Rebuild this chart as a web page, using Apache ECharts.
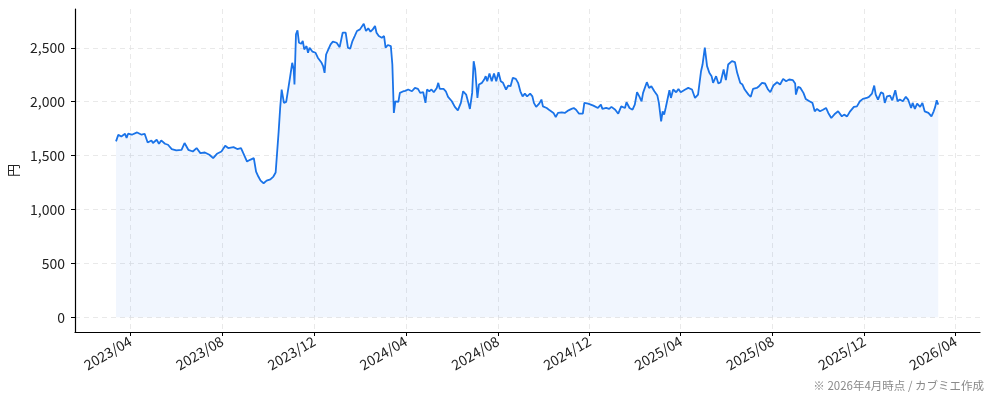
<!DOCTYPE html>
<html>
<head>
<meta charset="utf-8">
<script src="https://cdn.jsdelivr.net/npm/echarts@6/dist/echarts.min.js"></script>
<style>
  html, body { margin: 0; padding: 0; background: #fff; }
  #main { width: 994px; height: 400px; }
</style>
</head>
<body>
<div id="main"></div>
<script>
// 株価（円）
var dates = [
  '2023-03-13','2023-03-16','2023-03-20','2023-03-25','2023-03-27','2023-03-29','2023-04-03','2023-04-10','2023-04-12','2023-04-16',
  '2023-04-20','2023-04-24','2023-04-29','2023-05-01','2023-05-06','2023-05-09','2023-05-12','2023-05-17','2023-05-21','2023-05-26',
  '2023-06-01','2023-06-08','2023-06-12','2023-06-17','2023-06-23','2023-06-28','2023-07-03','2023-07-09','2023-07-15','2023-07-20',
  '2023-07-25','2023-07-31','2023-08-05','2023-08-09','2023-08-16','2023-08-21','2023-08-26','2023-08-29','2023-09-03','2023-09-07',
  '2023-09-12','2023-09-15','2023-09-18','2023-09-21','2023-09-25','2023-09-29','2023-10-04','2023-10-08','2023-10-11','2023-10-13',
  '2023-10-15','2023-10-17','2023-10-19','2023-10-22','2023-10-25','2023-10-27','2023-10-30','2023-11-02','2023-11-04','2023-11-05',
  '2023-11-07','2023-11-09','2023-11-11','2023-11-14','2023-11-16','2023-11-18','2023-11-21','2023-11-23','2023-11-25','2023-11-29',
  '2023-12-03','2023-12-06','2023-12-11','2023-12-13','2023-12-15','2023-12-17','2023-12-20','2023-12-23','2023-12-26','2023-12-31',
  '2024-01-04','2024-01-08','2024-01-12','2024-01-15','2024-01-18','2024-01-21','2024-01-24','2024-01-27','2024-01-31','2024-02-02',
  '2024-02-05','2024-02-08','2024-02-11','2024-02-14','2024-02-17','2024-02-20','2024-02-22','2024-02-25','2024-02-29','2024-03-03',
  '2024-03-05','2024-03-08','2024-03-12','2024-03-14','2024-03-16','2024-03-18','2024-03-22','2024-03-24','2024-03-28','2024-03-31',
  '2024-04-04','2024-04-09','2024-04-13','2024-04-17','2024-04-20','2024-04-24','2024-04-27','2024-04-29','2024-05-02','2024-05-05',
  '2024-05-08','2024-05-12','2024-05-14','2024-05-16','2024-05-21','2024-05-24','2024-05-27','2024-06-01','2024-06-05','2024-06-09',
  '2024-06-13','2024-06-16','2024-06-20','2024-06-23','2024-06-25','2024-06-28','2024-06-30','2024-07-02','2024-07-05','2024-07-07',
  '2024-07-11','2024-07-14','2024-07-16','2024-07-18','2024-07-21','2024-07-24','2024-07-27','2024-07-30','2024-08-02','2024-08-05',
  '2024-08-08','2024-08-12','2024-08-15','2024-08-18','2024-08-21','2024-08-25','2024-08-28','2024-08-31','2024-09-03','2024-09-06',
  '2024-09-09','2024-09-13','2024-09-16','2024-09-18','2024-09-21','2024-09-25','2024-09-28','2024-09-30','2024-10-05','2024-10-09',
  '2024-10-14','2024-10-17','2024-10-20','2024-10-25','2024-10-29','2024-11-03','2024-11-07','2024-11-10','2024-11-13','2024-11-17',
  '2024-11-22','2024-11-24','2024-11-29','2024-12-06','2024-12-12','2024-12-16','2024-12-18','2024-12-23','2024-12-27','2024-12-30',
  '2025-01-04','2025-01-08','2025-01-12','2025-01-17','2025-01-19','2025-01-23','2025-01-27','2025-01-30','2025-02-02','2025-02-05',
  '2025-02-08','2025-02-10','2025-02-15','2025-02-18','2025-02-21','2025-02-25','2025-03-01','2025-03-03','2025-03-06','2025-03-08',
  '2025-03-10','2025-03-12','2025-03-14','2025-03-17','2025-03-19','2025-03-22','2025-03-26','2025-03-29','2025-04-01','2025-04-07',
  '2025-04-11','2025-04-16','2025-04-20','2025-04-24','2025-04-28','2025-04-30','2025-05-03','2025-05-06','2025-05-09','2025-05-12',
  '2025-05-14','2025-05-18','2025-05-21','2025-05-24','2025-05-28','2025-05-31','2025-06-03','2025-06-08','2025-06-12','2025-06-15',
  '2025-06-19','2025-06-22','2025-06-25','2025-06-30','2025-07-03','2025-07-06','2025-07-11','2025-07-14','2025-07-18','2025-07-22',
  '2025-07-26','2025-07-29','2025-08-02','2025-08-07','2025-08-11','2025-08-15','2025-08-19','2025-08-23','2025-08-28','2025-08-31',
  '2025-09-01','2025-09-04','2025-09-07','2025-09-11','2025-09-14','2025-09-19','2025-09-23','2025-09-26','2025-09-29','2025-10-03',
  '2025-10-07','2025-10-11','2025-10-14','2025-10-18','2025-10-23','2025-10-27','2025-11-01','2025-11-04','2025-11-08','2025-11-12',
  '2025-11-14','2025-11-17','2025-11-21','2025-11-25','2025-11-29','2025-12-04','2025-12-07','2025-12-11','2025-12-14','2025-12-16',
  '2025-12-19','2025-12-23','2025-12-26','2025-12-28','2025-12-31','2026-01-04','2026-01-07','2026-01-11','2026-01-14','2026-01-17',
  '2026-01-21','2026-01-25','2026-01-28','2026-02-01','2026-02-03','2026-02-06','2026-02-09','2026-02-13','2026-02-16','2026-02-19',
  '2026-02-24','2026-02-28','2026-03-03','2026-03-05','2026-03-07','2026-03-09'
];
var prices = [
  1632,1694,1678,1703,1663,1703,1694,1715,1725,1694,
  1703,1622,1641,1617,1647,1610,1641,1610,1601,1561,
  1548,1554,1617,1554,1538,1570,1523,1529,1508,1477,
  1517,1538,1591,1570,1579,1561,1570,1523,1445,1461,
  1477,1352,1306,1268,1244,1268,1280,1306,1343,1330,
  1725,1942,2113,1989,1998,1989,2222,2361,2299,2159,
  2625,2662,2547,2538,2563,2485,2516,2454,2501,2464,
  2454,2408,2361,2330,2268,2438,2485,2532,2557,2547,
  2506,2640,2640,2501,2492,2563,2609,2656,2671,2665,
  2724,2656,2681,2650,2671,2702,2640,2609,2594,2609,
  2501,2526,2516,2345,1896,2004,1998,2082,2095,2100,
  2113,2097,2128,2119,2082,2088,1989,2113,2097,2113,
  2088,2128,2175,2119,2119,2097,2045,2004,1952,1920,
  1989,2097,2066,1989,1933,2082,2376,2299,2035,2159,
  2175,2206,2237,2190,2262,2190,2262,2190,2274,2190,
  2175,2113,2150,2144,2222,2212,2175,2097,2050,2075,
  2050,2075,2050,1989,1952,1982,2020,1957,1942,1920,
  1896,1858,1896,1901,1896,1920,1933,1942,1926,1889,
  1889,1989,1982,1964,1942,1973,1933,1942,1933,1952,
  1926,1889,1957,1942,1995,1942,1926,1973,2088,2050,
  2004,2082,2181,2128,2144,2097,2057,1989,1818,1911,
  1880,1942,1957,2106,2035,2113,2088,2119,2088,2113,
  2128,2113,2035,2066,2283,2345,2501,2330,2268,2237,
  2175,2237,2169,2181,2299,2200,2345,2376,2367,2268,
  2175,2159,2113,2066,2045,2119,2128,2144,2175,2169,
  2113,2088,2150,2181,2160,2212,2190,2206,2200,2169,
  2066,2138,2128,2082,2026,2004,1989,1911,1933,1911,
  1926,1942,1896,1849,1889,1911,1864,1880,1864,1911,
  1896,1952,1957,2004,2026,2035,2045,2075,2150,2066,
  2020,2088,2075,1989,2050,2057,2013,2106,2004,2020,
  2004,2045,2020,1942,1989,1933,1982,1952,1989,1911,
  1896,1864,1911,1952,2013,1973
];
var xTicks = ['2023-04-01','2023-08-01','2023-12-01','2024-04-01','2024-08-01','2024-12-01',
  '2025-04-01','2025-08-01','2025-12-01','2026-04-01'];
var yTicks = [0, 500, 1000, 1500, 2000, 2500];

function toTime(d) { return +new Date(d + 'T00:00:00'); }
var xTickTimes = xTicks.map(toTime);

var FONT = '"Noto Sans CJK JP", "Noto Sans", sans-serif';
var myChart = echarts.init(document.getElementById('main'));
var option = {
  animation: false,
  backgroundColor: '#ffffff',
  textStyle: { fontFamily: FONT },
  grid: { left: 75, right: 14, top: 9, bottom: 68, containLabel: false, outerBoundsMode: 'none' },
  xAxis: {
    type: 'value',
    min: toTime('2023-01-17') + 12 * 3600e3,
    max: toTime('2026-05-03') + 12 * 3600e3,
    axisLine: { onZero: false, lineStyle: { color: '#000', width: 1.2 } },
    axisTick: { customValues: xTickTimes, length: 4, lineStyle: { color: '#000', width: 1 } },
    axisLabel: {
      customValues: xTickTimes,
      rotate: 30, margin: 8, fontSize: 14, color: '#222', fontFamily: FONT,
      formatter: function (v) { return echarts.time.format(v, '{yyyy}/{MM}', false); }
    },
    splitLine: { show: true, lineStyle: { color: '#e3e3e3', type: [5, 4], width: 0.8 } }
  },
  yAxis: {
    type: 'value',
    min: -136,
    max: 2860,
    name: '円',
    nameLocation: 'middle',
    nameRotate: 90,
    nameGap: 54,
    nameTextStyle: { fontSize: 13, color: '#222', fontFamily: FONT },
    axisLine: { show: true, lineStyle: { color: '#000', width: 1.2 } },
    axisTick: { show: true, customValues: yTicks, length: 4, lineStyle: { color: '#000', width: 1 } },
    axisLabel: {
      customValues: yTicks, margin: 10, fontSize: 14, color: '#222', fontFamily: FONT,
      formatter: function (v) { return v.toLocaleString('en-US'); }
    },
    splitLine: { show: true, lineStyle: { color: '#e3e3e3', type: [5, 4], width: 0.8 } }
  },
  graphic: [{
    type: 'text',
    right: 10,
    bottom: 9,
    style: {
      text: '※ 2026年4月時点 / カブミエ作成',
      fill: '#8a8a8a',
      font: '11.5px ' + FONT
    }
  }],
  series: [{
    type: 'line',
    data: dates.map(function (d, i) { return [toTime(d), prices[i]]; }),
    showSymbol: false,
    symbol: 'none',
    lineStyle: { color: '#1a73e8', width: 1.8 },
    areaStyle: { color: 'rgba(26,115,232,0.09)', origin: 0 },
    z: 3
  }]
};
myChart.setOption(option);
</script>
</body>
</html>
